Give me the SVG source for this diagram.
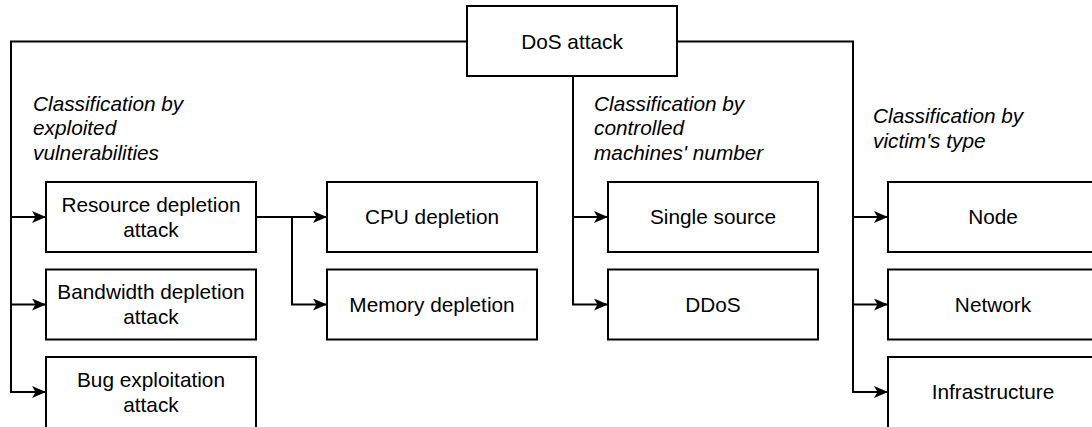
<svg xmlns="http://www.w3.org/2000/svg" width="1092" height="427" viewBox="0 0 1092 427">
<style>
.box{fill:#fff;stroke:#000;stroke-width:2}
.t{font-family:"Liberation Sans",Arial,sans-serif;font-size:20.8px;fill:#000;text-anchor:middle}
.lbl{font-family:"Liberation Sans",Arial,sans-serif;font-size:20.8px;font-style:italic;fill:#000}
.c{fill:none;stroke:#000;stroke-width:2}
</style>
<defs>
<marker id="arr" viewBox="0 0 14 12" refX="14" refY="6" markerWidth="14" markerHeight="12" markerUnits="userSpaceOnUse" orient="auto">
<path d="M0,0 L14,6 L0,12 L3.5,6 Z" fill="#000"/>
</marker>
</defs>
<rect width="1092" height="427" fill="#fff"/>
<g id="connectors">
<path class="c" d="M467,41.5 H11 V217 H46" marker-end="url(#arr)"/>
<path class="c" d="M11,217 V304.5 H46" marker-end="url(#arr)"/>
<path class="c" d="M11,304.5 V392 H46" marker-end="url(#arr)"/>
<path class="c" d="M256,217 H327" marker-end="url(#arr)"/>
<path class="c" d="M292,217 V304.5 H327" marker-end="url(#arr)"/>
<path class="c" d="M573,76 V217 H608" marker-end="url(#arr)"/>
<path class="c" d="M573,217 V304.5 H608" marker-end="url(#arr)"/>
<path class="c" d="M677,41.5 H853 V217 H888" marker-end="url(#arr)"/>
<path class="c" d="M853,217 V304.5 H888" marker-end="url(#arr)"/>
<path class="c" d="M853,304.5 V392 H888" marker-end="url(#arr)"/>
</g>
<g id="labels">
<text class="lbl" x="33" y="110.5">Classification by</text>
<text class="lbl" x="33" y="135">exploited</text>
<text class="lbl" x="33" y="159.5">vulnerabilities</text>
<text class="lbl" x="594" y="110.5">Classification by</text>
<text class="lbl" x="594" y="135">controlled</text>
<text class="lbl" x="594" y="159.5">machines' number</text>
<text class="lbl" x="873" y="122.5">Classification by</text>
<text class="lbl" x="873" y="147.5">victim's type</text>
</g>
<g id="dos"><rect class="box" x="467" y="6" width="210" height="70"/><text class="t" x="572" y="48.5">DoS attack</text></g>
<g id="resource"><rect class="box" x="46" y="182" width="210" height="70"/><text class="t" x="151" y="211.5">Resource depletion</text><text class="t" x="151" y="236.5">attack</text></g>
<g id="bandwidth"><rect class="box" x="46" y="269.5" width="210" height="70"/><text class="t" x="151" y="299">Bandwidth depletion</text><text class="t" x="151" y="324">attack</text></g>
<g id="bug"><rect class="box" x="46" y="357" width="210" height="72"/><text class="t" x="151" y="386.5">Bug exploitation</text><text class="t" x="151" y="411.5">attack</text></g>
<g id="cpu"><rect class="box" x="327" y="182" width="210" height="70"/><text class="t" x="432" y="224.3">CPU depletion</text></g>
<g id="memory"><rect class="box" x="327" y="269.5" width="210" height="70"/><text class="t" x="432" y="311.8">Memory depletion</text></g>
<g id="single"><rect class="box" x="608" y="182" width="210" height="70"/><text class="t" x="713" y="224.3">Single source</text></g>
<g id="ddos"><rect class="box" x="608" y="269.5" width="210" height="70"/><text class="t" x="713" y="311.8">DDoS</text></g>
<g id="node"><rect class="box" x="888" y="182" width="210" height="70"/><text class="t" x="993" y="224.3">Node</text></g>
<g id="network"><rect class="box" x="888" y="269.5" width="210" height="70"/><text class="t" x="993" y="311.8">Network</text></g>
<g id="infra"><rect class="box" x="888" y="357" width="210" height="72"/><text class="t" x="993" y="399.3">Infrastructure</text></g>
</svg>
